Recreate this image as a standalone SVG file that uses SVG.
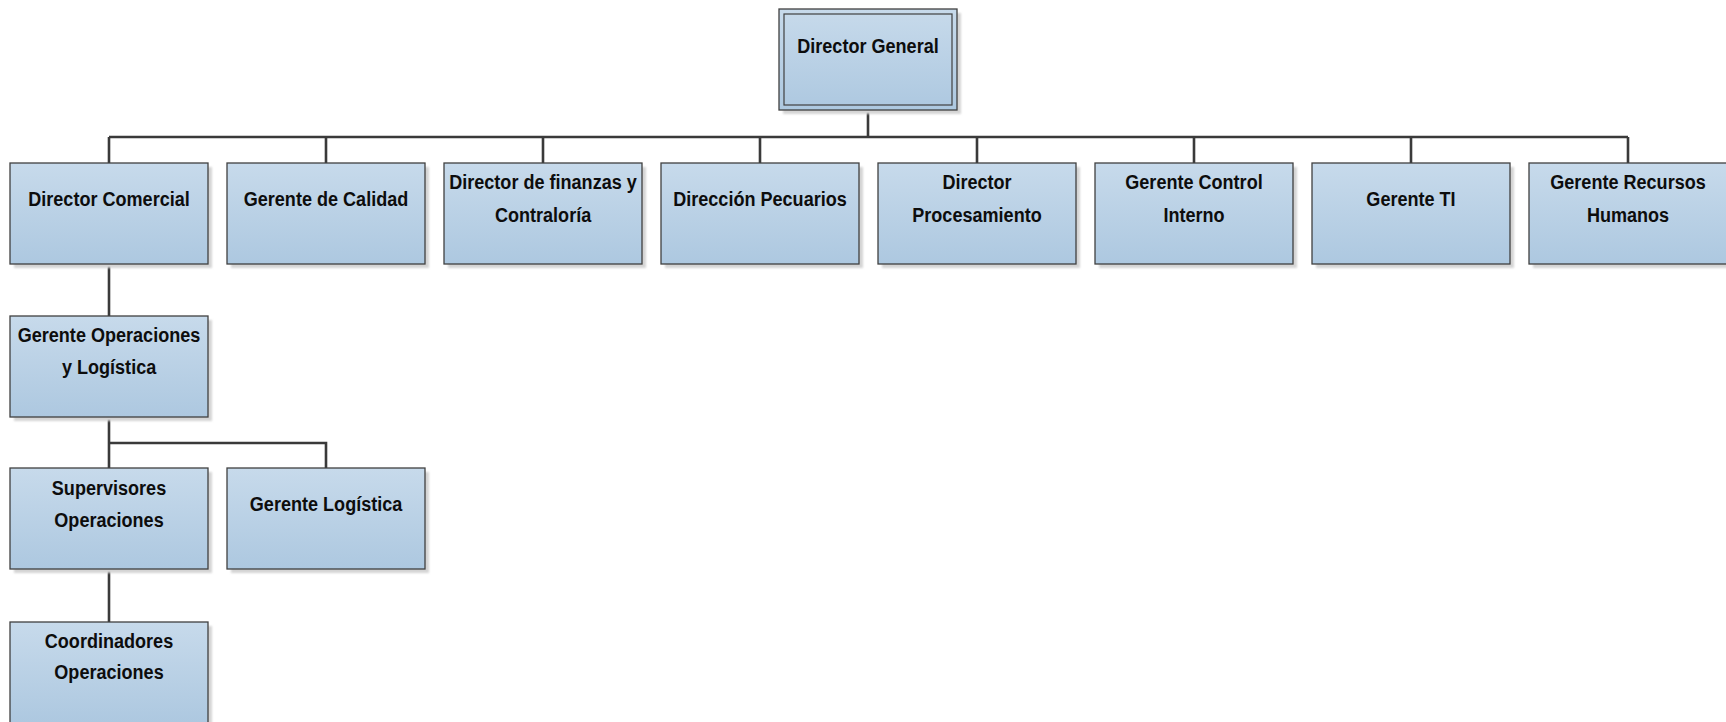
<svg xmlns="http://www.w3.org/2000/svg" width="1726" height="722" viewBox="0 0 1726 722">
  <defs>
    <linearGradient id="boxFill" x1="0" y1="0" x2="0" y2="1">
      <stop offset="0" stop-color="#c7daeb"/>
      <stop offset="1" stop-color="#adc8e0"/>
    </linearGradient>
    <filter id="soft" x="-5%" y="-5%" width="115%" height="115%">
      <feGaussianBlur stdDeviation="1"/>
    </filter>
    <style>
      .box { fill: url(#boxFill); stroke: #404040; stroke-width: 1.3; }
      .inner { fill: none; stroke: #404040; stroke-width: 1.2; }
      .shadow { fill: #d4d4d4; filter: url(#soft); }
      .lbl { font-family: "Liberation Sans", Arial, sans-serif; font-weight: bold; font-size: 21px; fill: #0d0d0d; text-anchor: middle;
             transform-box: fill-box; transform-origin: center; transform: scaleX(0.86); }
      .wire { fill: none; stroke: #3a3a3a; stroke-width: 2.6; }
    </style>
  </defs>

  <rect width="1726" height="722" fill="#ffffff"/>

  <!-- reporting lines -->
  <g id="connectors">
    <path class="wire" d="M868 110 V137"/>
    <path class="wire" d="M109 137 H1628"/>
    <path class="wire" d="M109 137 V163 M326 137 V163 M543 137 V163 M760 137 V163 M977 137 V163 M1194 137 V163 M1411 137 V163 M1628 137 V163"/>
    <path class="wire" d="M109 264 V316"/>
    <path class="wire" d="M109 417 V468 M109 443 H326 V468"/>
    <path class="wire" d="M109 570 V622"/>
  </g>

  <!-- top node -->
  <g id="director-general">
    <rect class="shadow" x="783" y="13" width="178" height="101"/>
    <rect class="box" x="779" y="9" width="178" height="101"/>
    <rect class="inner" x="784" y="14" width="168" height="91"/>
    <text class="lbl" x="868" y="53">Director General</text>
  </g>

  <!-- second level -->
  <g id="director-comercial">
    <rect class="shadow" x="14" y="167" width="198" height="101"/>
    <rect class="box" x="10" y="163" width="198" height="101"/>
    <text class="lbl" x="109" y="206">Director Comercial</text>
  </g>
  <g id="gerente-calidad">
    <rect class="shadow" x="231" y="167" width="198" height="101"/>
    <rect class="box" x="227" y="163" width="198" height="101"/>
    <text class="lbl" x="326" y="206">Gerente de Calidad</text>
  </g>
  <g id="director-finanzas">
    <rect class="shadow" x="448" y="167" width="198" height="101"/>
    <rect class="box" x="444" y="163" width="198" height="101"/>
    <text class="lbl" x="543" y="189">Director de finanzas y</text>
    <text class="lbl" x="543" y="222">Contraloría</text>
  </g>
  <g id="direccion-pecuarios">
    <rect class="shadow" x="665" y="167" width="198" height="101"/>
    <rect class="box" x="661" y="163" width="198" height="101"/>
    <text class="lbl" x="760" y="206">Dirección Pecuarios</text>
  </g>
  <g id="director-procesamiento">
    <rect class="shadow" x="882" y="167" width="198" height="101"/>
    <rect class="box" x="878" y="163" width="198" height="101"/>
    <text class="lbl" x="977" y="189">Director</text>
    <text class="lbl" x="977" y="222">Procesamiento</text>
  </g>
  <g id="gerente-control-interno">
    <rect class="shadow" x="1099" y="167" width="198" height="101"/>
    <rect class="box" x="1095" y="163" width="198" height="101"/>
    <text class="lbl" x="1194" y="189">Gerente Control</text>
    <text class="lbl" x="1194" y="222">Interno</text>
  </g>
  <g id="gerente-ti">
    <rect class="shadow" x="1316" y="167" width="198" height="101"/>
    <rect class="box" x="1312" y="163" width="198" height="101"/>
    <text class="lbl" x="1411" y="206">Gerente TI</text>
  </g>
  <g id="gerente-rrhh">
    <rect class="shadow" x="1533" y="167" width="198" height="101"/>
    <rect class="box" x="1529" y="163" width="198" height="101"/>
    <text class="lbl" x="1628" y="189">Gerente Recursos</text>
    <text class="lbl" x="1628" y="222">Humanos</text>
  </g>

  <!-- commercial branch -->
  <g id="gerente-operaciones">
    <rect class="shadow" x="14" y="320" width="198" height="101"/>
    <rect class="box" x="10" y="316" width="198" height="101"/>
    <text class="lbl" x="109" y="342">Gerente Operaciones</text>
    <text class="lbl" x="109" y="374">y Logística</text>
  </g>
  <g id="supervisores-operaciones">
    <rect class="shadow" x="14" y="472" width="198" height="101"/>
    <rect class="box" x="10" y="468" width="198" height="101"/>
    <text class="lbl" x="109" y="495">Supervisores</text>
    <text class="lbl" x="109" y="527">Operaciones</text>
  </g>
  <g id="gerente-logistica">
    <rect class="shadow" x="231" y="472" width="198" height="101"/>
    <rect class="box" x="227" y="468" width="198" height="101"/>
    <text class="lbl" x="326" y="511">Gerente Logística</text>
  </g>
  <g id="coordinadores-operaciones">
    <rect class="shadow" x="14" y="626" width="198" height="101"/>
    <rect class="box" x="10" y="622" width="198" height="101"/>
    <text class="lbl" x="109" y="648">Coordinadores</text>
    <text class="lbl" x="109" y="679">Operaciones</text>
  </g>
</svg>
